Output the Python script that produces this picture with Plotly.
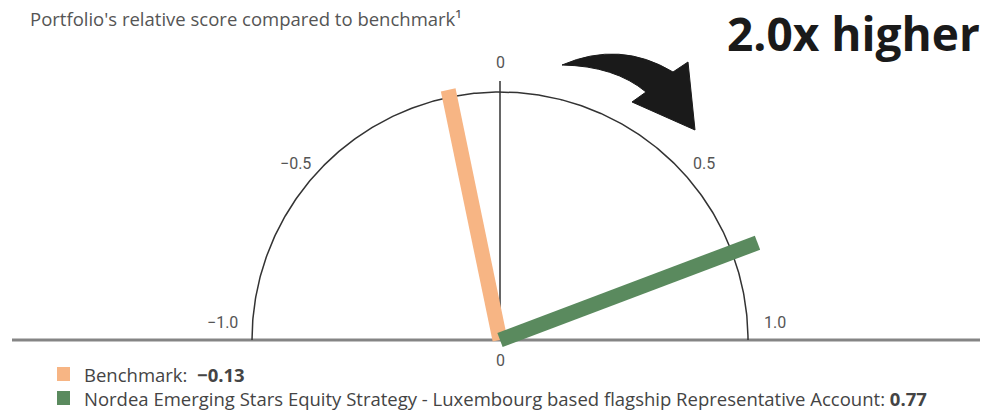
import numpy as np
import plotly.graph_objects as go

# Scores relative to the benchmark (gauge runs from -1 to 1)
series_names = ["Benchmark", "Nordea Emerging Stars Equity Strategy - Luxembourg based flagship Representative Account"]
series_values = [-0.13, 0.77]
series_colors = ["#F7B584", "#5A8A5E"]
tick_values = [-1.0, -0.5, 0.0, 0.5, 1.0]
tick_labels = ["\u22121.0", "\u22120.5", "0", "0.5", "1.0"]

W, H = 987, 415
CX, CY, SCALE = 500, 340, 248.0  # gauge centre in pixels and pixels per unit
FONT = "Open Sans, Roboto, sans-serif"
LEG_FONT = 18.5


def px(x, y):
    """Pixel position -> axis coordinates."""
    return (x - CX) / SCALE, (CY - y) / SCALE


def polar(value, r):
    a = value * np.pi / 2
    return r * np.sin(a), r * np.cos(a)


fig = go.Figure()

# baseline
x0, _ = px(12, 0)
x1, _ = px(980, 0)
fig.add_shape(type="line", x0=x0, x1=x1, y0=0, y1=0, line=dict(color="#858585", width=3), layer="below")
# centre line
_, ytop = px(0, 81)
fig.add_shape(type="line", x0=0, x1=0, y0=0, y1=ytop, line=dict(color="#333333", width=1.5), layer="below")

# gauge arc
t = np.linspace(-1, 1, 361)
ax, ay = polar(t, 1.0)
fig.add_trace(go.Scatter(x=ax, y=ay, mode="lines", line=dict(color="#333333", width=1.5),
                         hoverinfo="skip", showlegend=False))

# score bars
bar_len = [1.03, 1.11]
for name, v, c, L in zip(series_names, series_values, series_colors, bar_len):
    ex, ey = polar(v, L)
    fig.add_trace(go.Scatter(x=[0, ex], y=[0, ey], mode="lines", line=dict(color=c, width=15),
                             name=name, showlegend=False))

# tick labels around the gauge
label_shift = {-1.0: (0, 18), -0.5: (-8, -20), 0.0: (0, 0), 0.5: (8, -20), 1.0: (-3, 18)}
for v, lab in zip(tick_values, tick_labels):
    lx, ly = polar(v, 1.12)
    if abs(v) == 1.0:
        ly = 0
    sx, sy = label_shift[v]
    fig.add_annotation(x=lx, y=ly, text=lab, showarrow=False, xshift=sx, yshift=sy,
                       font=dict(family="Roboto, sans-serif", size=16, color="#555555"))
fig.add_annotation(x=0, y=0, text="0", showarrow=False, yshift=-20,
                   font=dict(family="Roboto, sans-serif", size=16, color="#555555"))

# curved arrow
def pp(a, b):
    x, y = px(a, b)
    return f"{x:.4f},{y:.4f}"


path = (f"M {pp(562, 65)} Q {pp(620, 40)} {pp(673, 72)} L {pp(688, 62)} L {pp(695, 130)} "
        f"L {pp(632, 102)} L {pp(646, 92)} Q {pp(615, 66)} {pp(562, 65)} Z")
fig.add_shape(type="path", path=path, fillcolor="#1a1a1a", line=dict(color="#1a1a1a", width=1))

# titles
fig.add_annotation(xref="paper", yref="paper", x=28 / W, y=1 - 19 / H, xanchor="left", yanchor="middle",
                   text="Portfolio's relative score compared to benchmark\u00b9", showarrow=False,
                   font=dict(family=FONT, size=18.5, color="#555555"))
fig.add_annotation(xref="paper", yref="paper", x=982 / W, y=1 - 33 / H, xanchor="right", yanchor="middle",
                   text="<b>2.0x higher</b>", showarrow=False,
                   font=dict(family=FONT, size=46, color="#1a1a1a"))

# legend: colour keys plus one two-line text block
line_gap = LEG_FONT * 1.3
leg_mid = 386
lines = []
for i, (name, v, c) in enumerate(zip(series_names, series_values, series_colors)):
    yy = leg_mid + (i - 0.5) * line_gap
    fig.add_shape(type="rect", xref="paper", yref="paper", x0=57 / W, x1=70 / W,
                  y0=1 - (yy + 7) / H, y1=1 - (yy - 7) / H, fillcolor=c, line=dict(width=0))
    val = f"{v:.2f}".replace("-", "\u2212")
    sep = ":  " if i == 0 else ": "
    lines.append(f"{name}{sep}<b>{val}</b>")
fig.add_annotation(xref="paper", yref="paper", x=82 / W, y=1 - leg_mid / H, xanchor="left", yanchor="middle",
                   align="left", text="<br>".join(lines), showarrow=False,
                   font=dict(family=FONT, size=LEG_FONT, color="#444444"))

fig.update_layout(
    width=W, height=H, margin=dict(l=0, r=0, t=0, b=0),
    paper_bgcolor="white", plot_bgcolor="white",
    xaxis=dict(range=[(0 - CX) / SCALE, (W - CX) / SCALE], visible=False, fixedrange=True),
    yaxis=dict(range=[(CY - H) / SCALE, CY / SCALE], visible=False, fixedrange=True),
    showlegend=False,
)

fig.write_html("out.html")
